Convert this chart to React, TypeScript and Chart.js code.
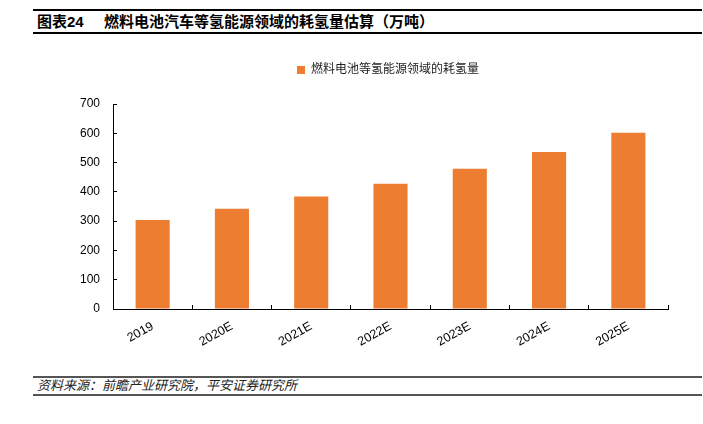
import React, { useEffect, useRef } from "react";
import { Chart, registerables } from "chart.js";

Chart.register(...registerables);

const categories = ["2019", "2020E", "2021E", "2022E", "2023E", "2024E", "2025E"];
const hydrogenUse = [304, 342, 384, 428, 479, 536, 602];
const seriesName = "燃料电池等氢能源领域的耗氢量";
const yTicks = [0, 100, 200, 300, 400, 500, 600, 700];
const titleLabel = "图表24";
const titleText = "燃料电池汽车等氢能源领域的耗氢量估算（万吨）";
const sourceText = "资料来源：前瞻产业研究院，平安证券研究所";

const LATIN = '"Liberation Sans", Arial, "Noto Sans CJK SC", sans-serif';
const CJK = '"Liberation Sans", "Noto Sans CJK SC", sans-serif';

// extra space under the legend and a shift of its centre to the right
const legendTweak = {
  id: "legendTweak",
  beforeUpdate(chart: any) {
    const lg = chart.legend;
    if (lg && !lg._tweaked) {
      const orig = lg.fit.bind(lg);
      lg.fit = function () {
        orig();
        this.height += 18;
        if (this.lineWidths && this.lineWidths.length) {
          this.lineWidths[0] -= 108;
        }
      };
      lg._tweaked = true;
    }
  },
};

export default function App() {
  const ref = useRef<HTMLCanvasElement | null>(null);

  useEffect(() => {
    if (!ref.current) return;
    const chart = new Chart(ref.current, {
      type: "bar",
      data: {
        labels: categories,
        datasets: [
          {
            label: seriesName,
            data: hydrogenUse,
            backgroundColor: "#ED7D31",
            borderWidth: 0,
            categoryPercentage: 1,
            barPercentage: 0.43,
          },
        ],
      },
      plugins: [legendTweak],
      options: {
        responsive: false,
        animation: false,
        devicePixelRatio: 1,
        layout: { padding: { top: 6, right: 35, left: 0, bottom: 0 } },
        plugins: {
          tooltip: { enabled: false },
          legend: {
            display: true,
            position: "top",
            labels: {
              boxWidth: 8,
              boxHeight: 8,
              padding: 28,
              color: "#222",
              font: { size: 12, family: CJK },
            },
          },
        },
        scales: {
          x: {
            afterFit: (s: any) => {
              s.height = 51;
            },
            grid: {
              display: true,
              drawOnChartArea: false,
              drawTicks: true,
              tickLength: -4,
              color: "#000",
              offset: true,
            },
            border: { display: true, color: "#000", width: 1 },
            ticks: {
              minRotation: 29,
              maxRotation: 29,
              padding: 14,
              color: "#000",
              font: { size: 12.5, family: LATIN },
            },
          },
          y: {
            min: 0,
            max: 700,
            afterFit: (s: any) => {
              s.width = 113;
            },
            afterBuildTicks: (s: any) => {
              s.ticks = yTicks.map((v) => ({ value: v }));
            },
            grid: {
              display: true,
              drawOnChartArea: false,
              drawTicks: true,
              tickLength: -4,
              color: "#000",
            },
            border: { display: true, color: "#000", width: 1 },
            ticks: {
              padding: 17,
              color: "#000",
              font: { size: 12, family: LATIN },
            },
          },
        },
      },
    });
    return () => chart.destroy();
  }, []);

  return (
    <div
      style={{
        position: "absolute",
        left: 0,
        top: 0,
        width: 703,
        height: 424,
        background: "#fff",
        overflow: "hidden",
      }}
    >
      <div style={{ position: "absolute", left: 33, top: 9, width: 669, height: 2, background: "#000" }} />
      <div
        style={{
          position: "absolute",
          left: 37,
          top: 12,
          height: 19,
          lineHeight: "19px",
          fontSize: 15,
          fontWeight: "bold",
          fontFamily: CJK,
          color: "#000",
          whiteSpace: "nowrap",
        }}
      >
        <span style={{ display: "inline-block", width: 67 }}>{titleLabel}</span>
        <span>{titleText}</span>
      </div>
      <div style={{ position: "absolute", left: 33, top: 32, width: 669, height: 2, background: "#000" }} />
      <canvas
        ref={ref}
        width={703}
        height={330}
        style={{ position: "absolute", left: 0, top: 30, width: 703, height: 330 }}
      />
      <div style={{ position: "absolute", left: 33, top: 376, width: 669, height: 2, background: "#555" }} />
      <div
        style={{
          position: "absolute",
          left: 37,
          top: 378,
          height: 16,
          lineHeight: "16px",
          fontSize: 13,
          fontStyle: "italic",
          fontFamily: CJK,
          color: "#222",
          whiteSpace: "nowrap",
        }}
      >
        {sourceText}
      </div>
      <div style={{ position: "absolute", left: 33, top: 394, width: 669, height: 2, background: "#555" }} />
    </div>
  );
}
